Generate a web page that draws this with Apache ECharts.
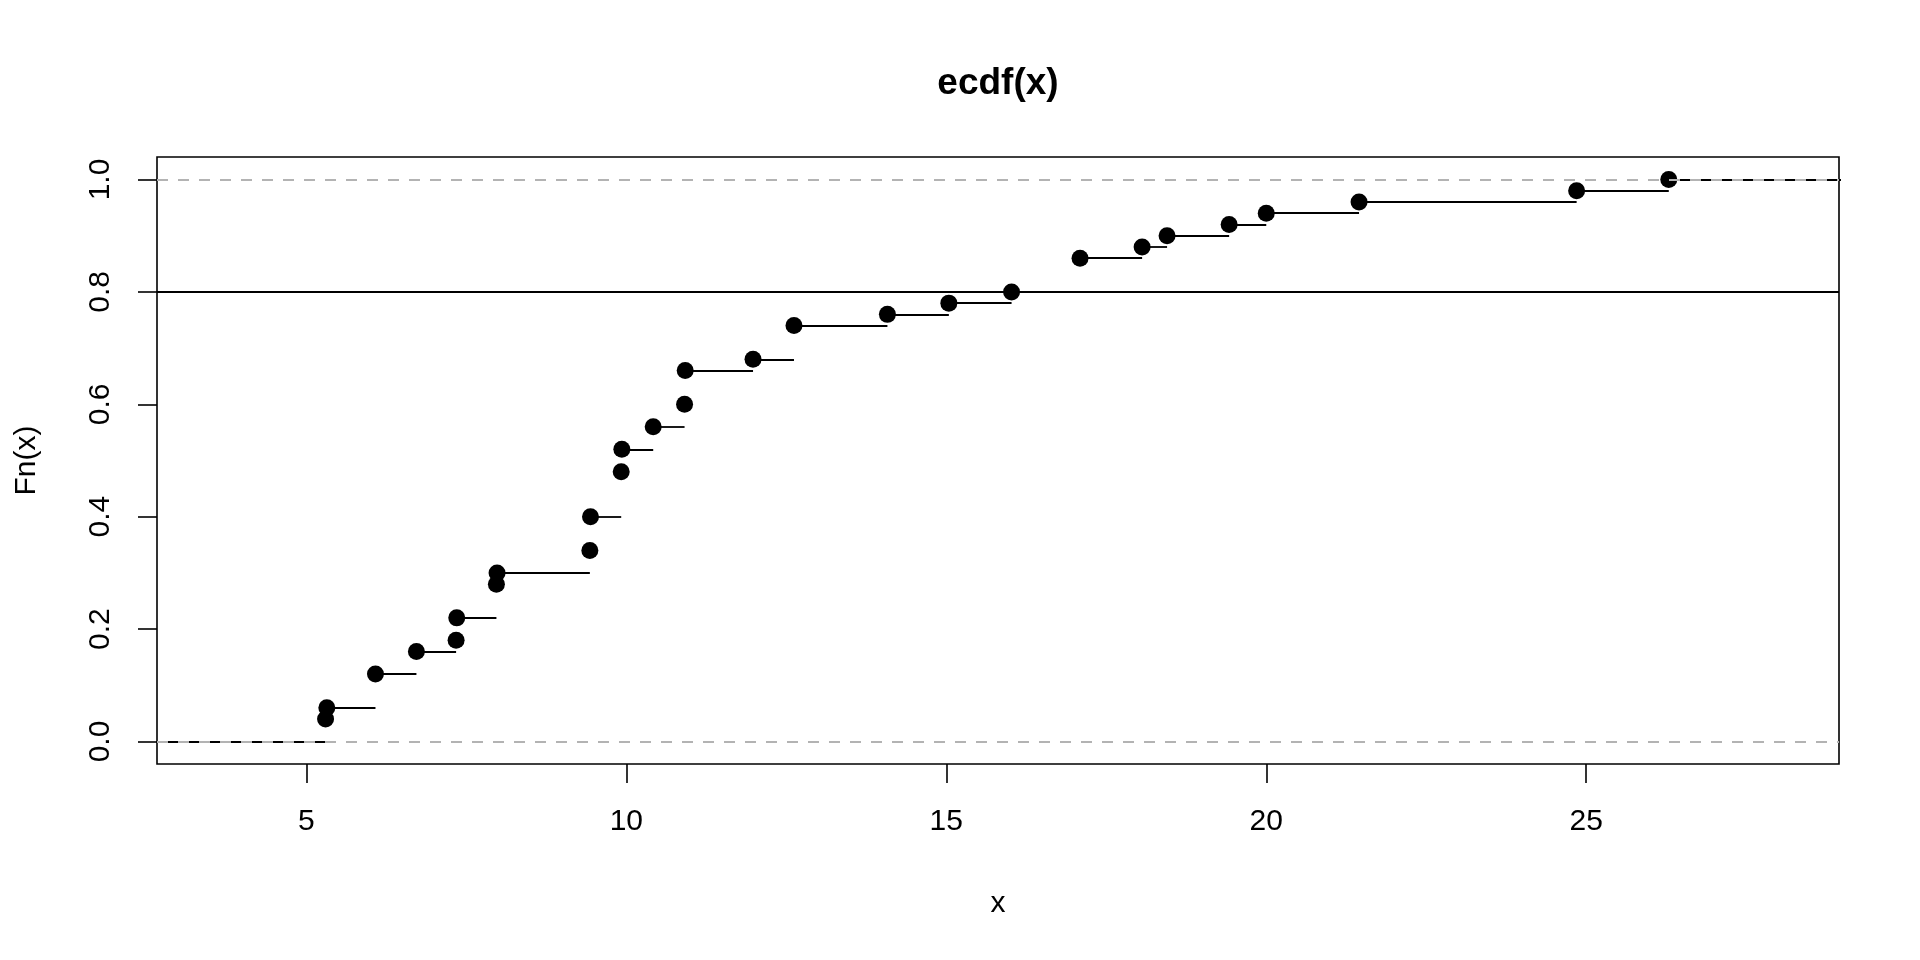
<!DOCTYPE html>
<html>
<head>
<meta charset="utf-8">
<script src="https://cdn.jsdelivr.net/npm/echarts@6/dist/echarts.min.js"></script>
<style>html,body{margin:0;padding:0;background:#fff;}#c{width:1920px;height:960px;}</style>
</head>
<body>
<div id="c"></div>
<script>
// ECDF knots (sorted distinct x values) and the ECDF value Fn at each knot
const knots = [5.30, 5.32, 6.08, 6.72, 7.34, 7.35, 7.97, 7.98, 9.43, 9.44, 9.92, 9.93, 10.42, 10.91, 10.92, 11.98, 12.62, 14.08, 15.04, 16.02, 17.09, 18.06, 18.45, 19.42, 20.00, 21.45, 24.85, 26.29];
const fn    = [0.04, 0.06, 0.12, 0.16, 0.18, 0.22, 0.28, 0.30, 0.34, 0.40, 0.48, 0.52, 0.56, 0.60, 0.66, 0.68, 0.74, 0.76, 0.78, 0.80, 0.86, 0.88, 0.90, 0.92, 0.94, 0.96, 0.98, 1.00];
const xTicks = [5, 10, 15, 20, 25];
const yTicks = [0, 0.2, 0.4, 0.6, 0.8, 1.0];
const refDashed = [0, 1];
const refSolid = [0.8];
const xRange = [2.666, 28.95];
const yRange = [-0.04, 1.04];

// horizontal step segments (no verticals)
const segs = [];
segs.push({coords: [[xRange[0] - 5, 0], [knots[0], 0]]});
for (let i = 0; i < knots.length; i++) {
  const xe = i + 1 < knots.length ? knots[i + 1] : xRange[1] + 5;
  segs.push({coords: [[knots[i], fn[i]], [xe, fn[i]]]});
}
const pts = knots.map((k, i) => [k, fn[i]]);

const font = '"Liberation Sans", Arial, Helvetica, sans-serif';
const chart = echarts.init(document.getElementById('c'), null, {renderer: 'canvas'});
chart.setOption({
  animation: false,
  backgroundColor: '#fff',
  grid: {left: 157, right: 81, top: 157, bottom: 196, show: true, borderColor: '#000', borderWidth: 1.6, backgroundColor: 'transparent'},
  graphic: [{
    type: 'text', x: 998, y: 84,
    style: {text: 'ecdf(x)', font: 'bold 37px ' + font, fill: '#000', textAlign: 'center', textVerticalAlign: 'middle'}
  }],
  xAxis: {
    type: 'value', min: xRange[0], max: xRange[1],
    axisLine: {show: false, onZero: false},
    splitLine: {show: false},
    axisTick: {show: true, length: 19, inside: false, customValues: xTicks, lineStyle: {color: '#000', width: 1.6}},
    axisLabel: {show: true, customValues: xTicks, margin: 43, color: '#000', fontSize: 30, fontFamily: font},
    name: 'x', nameLocation: 'middle', nameGap: 125,
    nameTextStyle: {color: '#000', fontSize: 30, fontFamily: font}
  },
  yAxis: {
    type: 'value', min: yRange[0], max: yRange[1],
    axisLine: {show: false, onZero: false},
    splitLine: {show: false},
    axisTick: {show: true, length: 19, inside: false, customValues: yTicks, lineStyle: {color: '#000', width: 1.6}},
    axisLabel: {show: true, customValues: yTicks, rotate: 90, margin: 41, color: '#000', fontSize: 30, fontFamily: font,
      formatter: v => v.toFixed(1)},
    name: 'Fn(x)', nameLocation: 'middle', nameGap: 115, nameRotate: 90,
    nameTextStyle: {color: '#000', fontSize: 30, fontFamily: font}
  },
  series: [
    {
      type: 'lines', coordinateSystem: 'cartesian2d', clip: true, z: 2,
      lineStyle: {color: '#000', width: 1.8, opacity: 1},
      data: segs, silent: true
    },
    {
      type: 'scatter', z: 3, symbol: 'circle', symbolSize: 17,
      itemStyle: {color: '#000', opacity: 1}, data: pts, silent: true
    },
    {
      type: 'line', data: [], z: 4, silent: true,
      markLine: {
        silent: true, symbol: 'none', label: {show: false},
        lineStyle: {color: '#000', width: 1.8, type: 'solid'},
        data: refSolid.map(v => ({yAxis: v}))
      }
    },
    {
      type: 'line', data: [], z: 5, silent: true,
      markLine: {
        silent: true, symbol: 'none', label: {show: false},
        lineStyle: {color: '#b3b3b3', width: 1.8, type: [11, 10]},
        data: refDashed.map(v => ({yAxis: v}))
      }
    }
  ]
});
</script>
</body>
</html>
